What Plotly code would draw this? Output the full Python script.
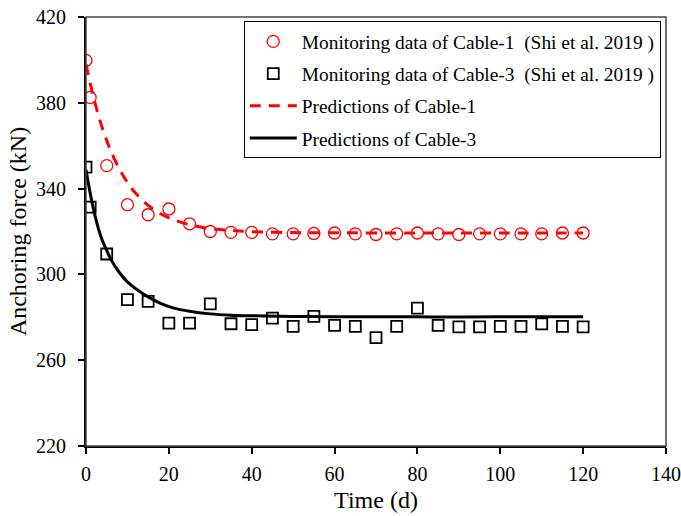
import plotly.graph_objects as go

# Monitoring data (Shi et al. 2019)
t_obs = [0, 1, 5, 10, 15, 20, 25, 30, 35, 40, 45, 50, 55, 60, 65, 70, 75, 80,
         85, 90, 95, 100, 105, 110, 115, 120]
cable1_obs = [399.8, 382.5, 350.7, 332.5, 327.8, 330.5, 323.6, 320.0, 319.6, 319.6,
              318.9, 318.9, 319.1, 319.3, 318.9, 318.6, 318.9, 319.3, 318.9, 318.6,
              318.9, 318.9, 318.9, 318.9, 319.3, 319.3]
cable3_obs = [350.0, 331.4, 309.5, 288.2, 287.4, 277.3, 277.3, 286.3, 277.0, 276.6,
              279.6, 275.8, 280.4, 276.2, 275.8, 270.5, 275.8, 284.3, 276.2, 275.5,
              275.5, 275.8, 275.8, 276.9, 275.8, 275.5]

# Model predictions
t_pred = [0, 1, 2, 3, 4, 5, 6, 8, 10, 12, 15, 18, 21, 25, 30, 35, 40, 50, 60,
          80, 100, 120]
cable1_pred = [398.0, 389.1, 381.2, 374.1, 367.9, 362.4, 357.5, 349.3, 342.9, 337.8,
               332.2, 328.3, 325.6, 323.2, 321.4, 320.5, 319.9, 319.5, 319.4,
               319.3, 319.3, 319.3]
cable3_pred = [348.8, 338.0, 328.8, 321.3, 315.5, 311.2, 307.0, 301.0, 296.5, 293.3,
               289.5, 286.5, 284.4, 282.8, 281.6, 281.0, 280.7, 280.4, 280.3,
               280.2, 280.2, 280.2]

x_ticks = [0, 20, 40, 60, 80, 100, 120, 140]
y_ticks = [220, 260, 300, 340, 380, 420]

FONT = "Liberation Serif, Times New Roman, serif"
NB = "\u00a0"

fig = go.Figure()

fig.add_trace(go.Scatter(
    x=t_obs, y=cable1_obs, mode="markers",
    name="Monitoring data of Cable-1" + NB + NB + "(Shi et al. 2019 )",
    legendgroup="a",
    marker=dict(symbol="circle-open", size=12, color="#ff0000",
                line=dict(width=1.3, color="#ff0000")),
))
fig.add_trace(go.Scatter(
    x=t_obs, y=cable3_obs, mode="markers",
    name="Monitoring data of Cable-3" + NB + NB + "(Shi et al. 2019 )",
    legendgroup="b",
    marker=dict(symbol="square-open", size=11, color="#000000",
                line=dict(width=1.8, color="#000000")),
))
fig.add_trace(go.Scatter(
    x=t_pred, y=cable1_pred, mode="lines",
    name="Predictions of Cable-1",
    legendgroup="c",
    line=dict(color="#ff0000", width=3, dash="11px,8px", shape="spline"),
))
fig.add_trace(go.Scatter(
    x=t_pred, y=cable3_pred, mode="lines",
    name="Predictions of Cable-3",
    legendgroup="d",
    line=dict(color="#000000", width=3, shape="spline"),
))

# thin frame along the top and right of the plotting area
fig.add_shape(type="rect", xref="paper", yref="paper", x0=0, y0=0, x1=1, y1=1,
              line=dict(color="#444444", width=1.5), layer="above")

fig.update_layout(
    width=681, height=516,
    margin=dict(l=86, r=15, t=17, b=70),
    paper_bgcolor="white", plot_bgcolor="white",
    font=dict(family=FONT, size=20, color="black"),
    showlegend=True,
    legend=dict(
        x=0.272, y=0.99, xanchor="left", yanchor="top",
        bordercolor="black", borderwidth=1, bgcolor="white",
        font=dict(family=FONT, size=19.4, color="black"),
        traceorder="grouped", tracegroupgap=4, itemwidth=47,
    ),
    xaxis=dict(
        range=[0, 140], tickvals=x_ticks, ticks="outside", ticklen=6,
        tickwidth=1.5, tickcolor="black", showline=True, linecolor="black",
        linewidth=2, showgrid=False, zeroline=False, ticklabelstandoff=3,
        automargin=False,
        title=dict(text="Time (d)", font=dict(size=24), standoff=7),
    ),
    yaxis=dict(
        range=[220, 420], tickvals=y_ticks, ticks="outside", ticklen=6,
        tickwidth=1.5, tickcolor="black", showline=True, linecolor="black",
        linewidth=2, showgrid=False, zeroline=False, ticklabelstandoff=8,
        automargin=False,
        title=dict(text="Anchoring force (kN)", font=dict(size=24), standoff=3),
    ),
)

fig.write_html("out.html")
